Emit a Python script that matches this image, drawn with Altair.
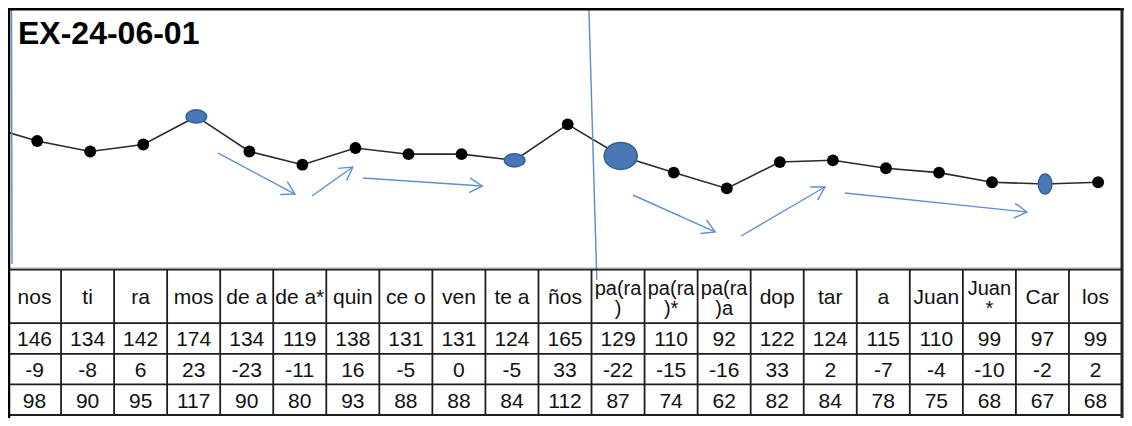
import math
import altair as alt
import pandas as pd

# ---------------- data ----------------
title_text = "EX-24-06-01"
syllables = ["nos", "ti", "ra", "mos", "de a", "de a*", "quin", "ce o", "ven", "te a", "ños",
             "pa(ra)", "pa(ra)*", "pa(ra)a", "dop", "tar", "a", "Juan", "Juan*", "Car", "los"]
header_lines = ["nos", "ti", "ra", "mos", "de a", "de a*", "quin", "ce o", "ven", "te a", "ños",
                "pa(ra\n)", "pa(ra\n)*", "pa(ra\n)a", "dop", "tar", "a", "Juan", "Juan\n*", "Car", "los"]
pitch = [146, 134, 142, 174, 134, 119, 138, 131, 131, 124, 165, 129, 110, 92, 122, 124, 115, 110, 99, 97, 99]
change = [-9, -8, 6, 23, -23, -11, 16, -5, 0, -5, 33, -22, -15, -16, 33, 2, -7, -4, -10, -2, 2]
level = [98, 90, 95, 117, 90, 80, 93, 88, 88, 84, 112, 87, 74, 62, 82, 84, 78, 75, 68, 67, 68]
pitch_before = 164  # preceding syllable, cut off by the left edge

wide_marks = ["mos", "te a"]
big_marks = ["pa(ra)"]
tall_marks = ["Car"]

# trend arrows (syllable position, pitch value)
arrow_from_x = [3.41, 5.18, 6.14, 11.23, 13.27, 15.23]
arrow_from_y = [132.3, 83.4, 103.9, 84.5, 37.8, 86.8]
arrow_to_x = [4.86, 5.95, 8.39, 12.78, 14.85, 18.66]
arrow_to_y = [85.6, 116.4, 94.7, 42.4, 93.6, 65.1]
divider_x = [10.40, 10.55]  # top, bottom

# ---------------- layout ----------------
W, H = 1114, 407
n = len(syllables)
LX = [-0.55, n - 0.55]
LY = [-166.1, 297.5]
TX = [-0.5, n - 0.5]
HEAD = 1.75
TY = [-8.55, HEAD + 3]
FONT = "Liberation Sans"
BLUE_LINE = "#5b8bd0"
ARROW = "#5d90d4"
ELL_FILL = "#4a78b6"
ELL_STROKE = "#33609c"

lx = dict(scale=alt.Scale(domain=LX, nice=False, zero=False), axis=None)
ly = dict(scale=alt.Scale(domain=LY, nice=False, zero=False), axis=None)
tx = dict(scale=alt.Scale(domain=TX, nice=False, zero=False), axis=None)
ty = dict(scale=alt.Scale(domain=TY, nice=False, zero=False, reverse=True), axis=None)

pts = pd.DataFrame({"idx": list(range(n)), "syl": syllables, "pitch": pitch})
line_df = pd.DataFrame({"idx": [-1] + list(range(n)), "pitch": [pitch_before] + pitch})

line = alt.Chart(line_df).mark_line(color="#2a2a2a", strokeWidth=1.6, clip=True).encode(
    x=alt.X("idx:Q", **lx), y=alt.Y("pitch:Q", **ly))
dots = alt.Chart(pts).mark_circle(size=140, color="black", opacity=1).encode(
    x=alt.X("idx:Q", **lx), y=alt.Y("pitch:Q", **ly))


def ellipse(names, path, size):
    return alt.Chart(pts).transform_filter(
        alt.FieldOneOfPredicate(field="syl", oneOf=names)
    ).mark_point(shape=path, size=size, filled=True, fill=ELL_FILL, stroke=ELL_STROKE,
                 strokeWidth=1.5, opacity=1).encode(
        x=alt.X("idx:Q", **lx), y=alt.Y("pitch:Q", **ly))


ell_wide = ellipse(wide_marks, "M-1,0A1,0.64 0 1,0 1,0A1,0.64 0 1,0 -1,0Z", 420)
ell_big = ellipse(big_marks, "M-1,0A1,0.82 0 1,0 1,0A1,0.82 0 1,0 -1,0Z", 1090)
ell_tall = ellipse(tall_marks, "M0,-1A0.68,1 0 1,0 0,1A0.68,1 0 1,0 0,-1Z", 400)

sx = W / (LX[1] - LX[0])
sy = H / (LY[1] - LY[0])
angles = []
for a, b, c, d in zip(arrow_from_x, arrow_from_y, arrow_to_x, arrow_to_y):
    dx = (c - a) * sx
    dy = -(d - b) * sy
    angles.append(math.degrees(math.atan2(dy, dx)) % 360)
arrows = pd.DataFrame({"x0": arrow_from_x, "y0": arrow_from_y,
                       "x1": arrow_to_x, "y1": arrow_to_y, "ang": angles})

shafts = alt.Chart(arrows).mark_rule(color=ARROW, strokeWidth=1.4).encode(
    x=alt.X("x0:Q", **lx), y=alt.Y("y0:Q", **ly), x2="x1:Q", y2="y1:Q")
heads = alt.Chart(arrows).mark_point(shape="M-1,-0.58L0,0L-1,0.58", size=650, filled=False,
                                     stroke=ARROW, strokeWidth=1.4, opacity=1).encode(
    x=alt.X("x1:Q", **lx), y=alt.Y("y1:Q", **ly), angle=alt.Angle("ang:Q", scale=None))

div_df = pd.DataFrame({"xt": [divider_x[0]], "xb": [divider_x[1]]})
divider = alt.Chart(div_df).mark_rule(color=BLUE_LINE, strokeWidth=1.4).encode(
    x=alt.X("xt:Q", **lx), x2="xb:Q", y=alt.value(0), y2=alt.value(272))

top = alt.layer(line, dots, ell_wide, ell_big, ell_tall, shafts, heads, divider)

# ---------------- table ----------------
row_bounds = [0, HEAD, HEAD + 1, HEAD + 2, HEAD + 3]
cells = []
for i in range(n):
    h = header_lines[i]
    cells.append({"col": i, "row": HEAD / 2, "txt": h, "multi": "\n" in h})
    cells.append({"col": i, "row": HEAD + 0.5, "txt": str(pitch[i]), "multi": False})
    cells.append({"col": i, "row": HEAD + 1.5, "txt": str(change[i]), "multi": False})
    cells.append({"col": i, "row": HEAD + 2.5, "txt": str(level[i]), "multi": False})
cells = pd.DataFrame(cells)

vlines = pd.DataFrame({"x": [k - 0.5 for k in range(n + 1)], "y": 0.0, "y2": row_bounds[-1]})
hlines = pd.DataFrame({"y": row_bounds, "x": TX[0], "x2": TX[1]})

tv = alt.Chart(vlines).mark_rule(color="#1e1e1e", strokeWidth=1.8).encode(
    x=alt.X("x:Q", **tx), y=alt.Y("y:Q", **ty), y2="y2:Q")
th = alt.Chart(hlines).mark_rule(color="#1e1e1e", strokeWidth=1.8).encode(
    y=alt.Y("y:Q", **ty), x=alt.X("x:Q", **tx), x2="x2:Q")
text_style = dict(font=FONT, color="#111111", baseline="middle",
                  align="center", lineBreak="\n", lineHeight=20)
tt_single = alt.Chart(cells).transform_filter("!datum.multi").mark_text(
    dy=2, fontSize=21, **text_style).encode(
    x=alt.X("col:Q", **tx), y=alt.Y("row:Q", **ty), text="txt:N")
tt_multi = alt.Chart(cells).transform_filter("datum.multi").mark_text(
    dy=-7, fontSize=20, **text_style).encode(
    x=alt.X("col:Q", **tx), y=alt.Y("row:Q", **ty), text="txt:N")
table = alt.layer(tv, th, tt_single, tt_multi)

# ---------------- frame & title ----------------
one = pd.DataFrame({"k": [0]})
frame_top = alt.Chart(one).mark_rule(color="black", strokeWidth=3).encode(
    x=alt.value(0), x2=alt.value(1116), y=alt.value(1))
frame_left = alt.Chart(one).mark_rule(color="black", strokeWidth=2.5).encode(
    x=alt.value(1), y=alt.value(0), y2=alt.value(410))
frame_right = alt.Chart(one).mark_rule(color="#222222", strokeWidth=3).encode(
    x=alt.value(W), y=alt.value(0), y2=alt.value(410))
gray_base = alt.Chart(one).mark_rule(color="#a8a8a8", strokeWidth=1).encode(
    x=alt.value(0), x2=alt.value(W), y=alt.value(260))
left_blue = alt.Chart(one).mark_rule(color=BLUE_LINE, strokeWidth=1.4).encode(
    x=alt.value(3.5), x2=alt.value(4), y=alt.value(2), y2=alt.value(256))
title = alt.Chart(pd.DataFrame({"t": [title_text]})).mark_text(
    font=FONT, fontSize=32, fontWeight="bold", color="black", align="left",
    baseline="alphabetic").encode(x=alt.value(10), y=alt.value(36), text="t:N")

chart = alt.layer(
    gray_base, top, table, left_blue, frame_top, frame_left, frame_right, title
).resolve_scale(x="independent", y="independent").properties(
    width=W, height=H, autosize="none",
    padding={"left": 0, "top": 0, "right": 2, "bottom": 3},
    background="white",
).configure_view(stroke=None)

chart.save("out.html", embed_options={"renderer": "svg", "actions": False})
